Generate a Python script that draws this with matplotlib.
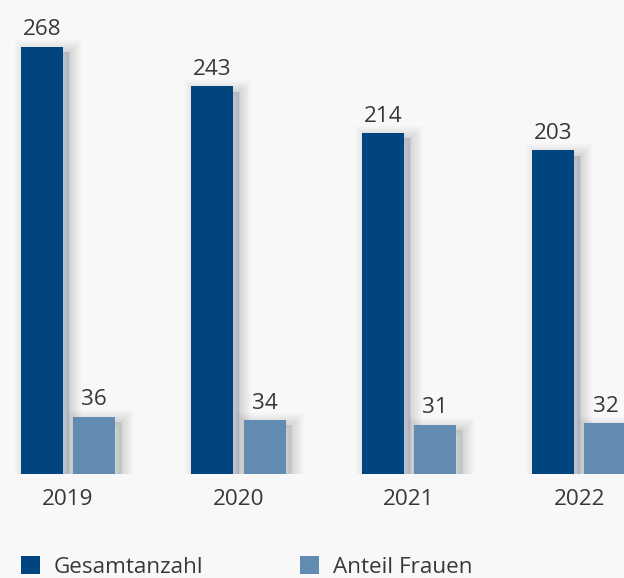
import numpy as np
import matplotlib.pyplot as plt
import matplotlib.patheffects as pe
from matplotlib.patches import Patch

YEARS = ["2019", "2020", "2021", "2022"]
GESAMT = [268, 243, 214, 203]
FRAUEN = [36, 34, 31, 32]

DARK = "#00457f"
LIGHT = "#628bb1"
TEXT = "#383838"
BG = "#f8f8f8"

plt.rcParams["font.family"] = ["Open Sans", "DejaVu Sans"]
FS = 16.2


def shadow_effects():
    # soft drop shadow to the lower right, built from stacked faint strokes
    effects = []
    for w in range(18, 0, -1):
        effects.append(pe.Stroke(offset=(4, -4), linewidth=w, foreground="black", alpha=0.009))
    effects.append(pe.Normal())
    return effects


fig = plt.figure(figsize=(6.24, 5.78), dpi=100, facecolor=BG)
ax = fig.add_axes([0, 104 / 578, 1, 474 / 578])
ax.set_facecolor(BG)

x = np.arange(len(YEARS))
spacing = 170.5
bar_w = 42 / spacing
off = 26 / spacing

bars_g = ax.bar(x - off, GESAMT, width=bar_w, color=DARK, linewidth=0, zorder=3)
bars_f = ax.bar(x + off, FRAUEN, width=bar_w, color=LIGHT, linewidth=0, zorder=3)
for b in list(bars_g) + list(bars_f):
    b.set_path_effects(shadow_effects())

for bars, vals in [(bars_g, GESAMT), (bars_f, FRAUEN)]:
    for b, v in zip(bars, vals):
        ax.annotate(str(v), (b.get_x() + b.get_width() / 2, v),
                    xytext=(0, 8), textcoords="offset points",
                    ha="center", va="baseline", fontsize=FS, color=TEXT)

for xi, year in zip(x, YEARS):
    ax.annotate(year, (xi, 0), xytext=(0, -22.5), textcoords="offset points",
                ha="center", va="baseline", fontsize=FS, color=TEXT,
                annotation_clip=False)

ax.set_xlim(-68 / spacing, (624 - 68) / spacing)
ax.set_ylim(0, 474 / 1.595)
ax.set_xticks([])
ax.set_yticks([])
for s in ax.spines.values():
    s.set_visible(False)

handles = [Patch(facecolor=DARK, label="Gesamtanzahl"),
           Patch(facecolor=LIGHT, label="Anteil Frauen")]
fig.legend(handles=handles, loc="lower left", bbox_to_anchor=(21 / 624, 0),
           ncol=2, frameon=False, fontsize=FS, labelcolor=TEXT,
           borderpad=0, borderaxespad=0,
           handlelength=0.84, handleheight=0.84, handletextpad=0.62,
           columnspacing=4.3)

fig.savefig("out.png", dpi=100, facecolor=BG)
